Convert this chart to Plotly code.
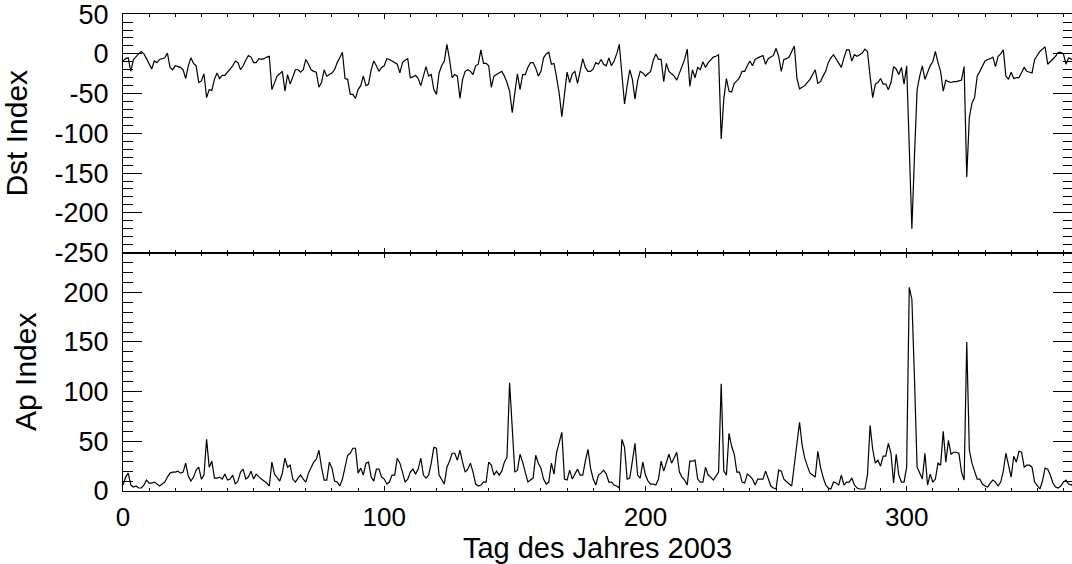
import plotly.graph_objects as go
from plotly.subplots import make_subplots

# Day of year 2003 (0-based)
days = list(range(365))

# Daily Dst index (nT)
dst = [
    -9, -6, -5, -22, -7, -3, 0, 3, 0, -6,
    -13, -19, -9, -11, -7, -6, -5, 1, -17, -20,
    -15, -16, -17, -20, -31, -15, -5, -12, -15, -36,
    -34, -25, -55, -45, -46, -32, -24, -31, -27, -27,
    -23, -20, -15, -9, -11, -20, -15, -8, -2, -4,
    -11, -11, -6, -7, -6, -4, -3, -45, -36, -28,
    -25, -22, -47, -26, -38, -30, -20, -20, -23, -20,
    -7, -13, -20, -22, -23, -42, -36, -20, -28, -26,
    -24, -20, -11, -5, 2, -31, -32, -51, -51, -56,
    -45, -40, -28, -40, -38, -20, -9, -15, -22, -17,
    -15, -6, -7, -9, -11, -13, -24, -11, -8, -6,
    -30, -29, -27, -31, -40, -28, -16, -28, -26, -45,
    -51, -24, -15, -9, 12, -7, -30, -26, -28, -56,
    -32, -22, -20, -22, -26, -15, -13, 5, -12, -12,
    -15, -42, -28, -26, -24, -22, -28, -36, -47, -74,
    -49, -25, -45, -26, -26, -17, -11, -11, -18, -28,
    -22, -5, 0, 2, -13, -12, -30, -50, -79, -53,
    -23, -36, -25, -22, -37, -22, -6, -17, -22, -22,
    -19, -11, -13, -7, -13, -15, -5, -15, -9, 0,
    12, -26, -63, -40, -20, -32, -57, -34, -22, -24,
    -28, -25, -22, -8, 0, -7, -7, -35, -12, -22,
    -25, -28, -33, -24, -17, -7, 6, -41, -20, -30,
    -17, -20, -10, -17, -11, -7, -4, -3, -1, -107,
    -57, -31, -47, -48, -37, -34, -30, -22, -22, -15,
    -9, -15, -7, -5, -3, -2, -13, -6, -4, -2,
    7, -3, -22, -7, -6, -4, 3, 10, -31, -44,
    -42, -40, -36, -32, -26, -20, -37, -35, -28, -22,
    -11, -5, -1, -6, -12, -17, -5, 5, 5, -9,
    -1, -3, -1, 1, 6, 3, -28, -55, -38, -36,
    -31, -38, -38, -45, -36, -16, -19, -26, -17, -38,
    -15, -110, -220, -128, -45, -28, -15, -32, -22, -15,
    -10, 3, -11, -22, -47, -33, -35, -36, -35, -35,
    -34, -33, -16, -155, -80, -62, -55, -28, -22, -15,
    -9, -7, -6, -4, -16, -3, 0, 5, -28, -32,
    -23, -31, -30, -30, -24, -17, -22, -23, -24, -7,
    -2, 3, 6, 9, -13, -10, -7, -3, 2, 2,
    0, -13, -5, -6, -8,
]

# Daily Ap index
ap = [
    6, 14, 18, 6, 4, 5, 3, 3, 6, 11,
    8, 8, 9, 7, 5, 7, 9, 14, 18, 19,
    19, 20, 18, 19, 28, 15, 10, 14, 21, 24,
    12, 16, 52, 24, 30, 13, 13, 14, 12, 17,
    11, 12, 16, 7, 10, 19, 22, 12, 14, 20,
    12, 17, 14, 12, 10, 8, 5, 29, 17, 14,
    10, 18, 33, 24, 26, 12, 9, 13, 16, 12,
    9, 18, 24, 29, 32, 41, 24, 11, 11, 29,
    23, 10, 9, 5, 12, 26, 36, 38, 43, 43,
    18, 23, 16, 28, 29, 14, 10, 22, 22, 14,
    12, 7, 9, 16, 16, 33, 28, 19, 9, 12,
    19, 22, 17, 22, 33, 16, 13, 16, 28, 44,
    43, 16, 11, 7, 24, 30, 38, 38, 31, 41,
    29, 19, 22, 28, 19, 7, 5, 6, 9, 9,
    29, 26, 16, 20, 16, 20, 29, 34, 109, 64,
    19, 21, 37, 29, 20, 9, 11, 13, 36, 28,
    23, 12, 7, 9, 28, 17, 39, 48, 59, 12,
    11, 21, 12, 17, 22, 16, 16, 30, 42, 23,
    12, 6, 16, 18, 21, 17, 9, 9, 6, 5,
    3, 52, 44, 12, 13, 30, 48, 16, 13, 29,
    16, 10, 7, 7, 6, 12, 30, 20, 28, 37,
    28, 33, 39, 19, 14, 11, 6, 30, 30, 31,
    12, 9, 9, 24, 16, 14, 11, 15, 19, 108,
    20, 16, 58, 45, 37, 19, 19, 9, 8, 17,
    15, 12, 6, 12, 12, 12, 20, 12, 5, 3,
    2, 21, 20, 12, 9, 7, 5, 26, 48, 69,
    46, 33, 25, 18, 16, 14, 40, 24, 14, 6,
    3, 2, 9, 8, 6, 16, 6, 9, 9, 13,
    6, 3, 2, 2, 2, 16, 66, 42, 28, 31,
    25, 35, 35, 48, 38, 8, 37, 16, 9, 9,
    24, 205, 193, 113, 24, 18, 12, 38, 6, 17,
    9, 12, 28, 26, 60, 29, 51, 37, 39, 39,
    38, 19, 11, 150, 41, 28, 19, 12, 12, 7,
    5, 4, 8, 11, 9, 5, 9, 20, 38, 24,
    14, 35, 29, 40, 39, 24, 26, 26, 24, 9,
    6, 2, 10, 23, 22, 16, 8, 4, 3, 5,
    9, 11, 7, 6, 8,
]

x_ticks = [0, 100, 200, 300]
x_labels = ["0", "100", "200", "300"]
dst_ticks = [50, 0, -50, -100, -150, -200, -250]
dst_labels = ["50", "0", "-50", "-100", "-150", "-200", "-250"]
ap_ticks = [0, 50, 100, 150, 200]
ap_labels = ["0", "50", "100", "150", "200"]

FONT = "Liberation Sans, Arial, Helvetica, sans-serif"
TICKFONT = dict(family=FONT, size=27, color="black")
XTICKFONT = dict(family=FONT, size=26, color="black")
TITLEFONT = dict(family=FONT, size=30, color="black")
XTITLEFONT = dict(family=FONT, size=29, color="black")

fig = make_subplots(rows=2, cols=1, shared_xaxes=True, vertical_spacing=0)

fig.add_trace(go.Scatter(x=days, y=dst, mode="lines",
                         line=dict(color="black", width=1.2),
                         showlegend=False), row=1, col=1)
fig.add_trace(go.Scatter(x=days, y=ap, mode="lines",
                         line=dict(color="black", width=1.2),
                         showlegend=False), row=2, col=1)

common_x = dict(range=[0, 363.3], showline=True, linecolor="black", linewidth=1,
                mirror="ticks", ticks="inside", ticklen=5, tickwidth=1,
                tickcolor="black", tickvals=x_ticks, ticktext=x_labels,
                showgrid=False, zeroline=False,
                minor=dict(dtick=10, ticks="inside", ticklen=3, tickcolor="black",
                           tickwidth=1, showgrid=False))
fig.update_xaxes(**common_x)
fig.update_xaxes(showticklabels=False, row=1, col=1)
fig.update_xaxes(showticklabels=True, tickfont=XTICKFONT,
                 ticklabelstandoff=3,
                 title=dict(text="Tag des Jahres 2003", font=XTITLEFONT, standoff=9),
                 row=2, col=1)

common_y = dict(showline=True, linecolor="black", linewidth=1, mirror="ticks",
                ticks="inside", ticklen=19, tickwidth=1, tickcolor="black",
                showgrid=False, zeroline=False, tickfont=TICKFONT,
                ticklabelstandoff=8, ticklabeloverflow="allow",
                minor=dict(dtick=10, ticks="inside", ticklen=9.5, tickcolor="black",
                           tickwidth=1, showgrid=False))
fig.update_yaxes(**common_y)
fig.update_yaxes(range=[-250, 50.2], tickvals=dst_ticks, ticktext=dst_labels,
                 title=dict(text="Dst Index", font=TITLEFONT, standoff=18),
                 row=1, col=1)
fig.update_yaxes(range=[0, 240], tickvals=ap_ticks, ticktext=ap_labels,
                 title=dict(text="Ap Index", font=TITLEFONT, standoff=18),
                 row=2, col=1)

fig.update_layout(width=1072, height=564, margin=dict(l=123, r=0, t=14, b=73),
                  paper_bgcolor="white", plot_bgcolor="white",
                  font=dict(family=FONT, color="black"))

fig.write_html("out.html")
